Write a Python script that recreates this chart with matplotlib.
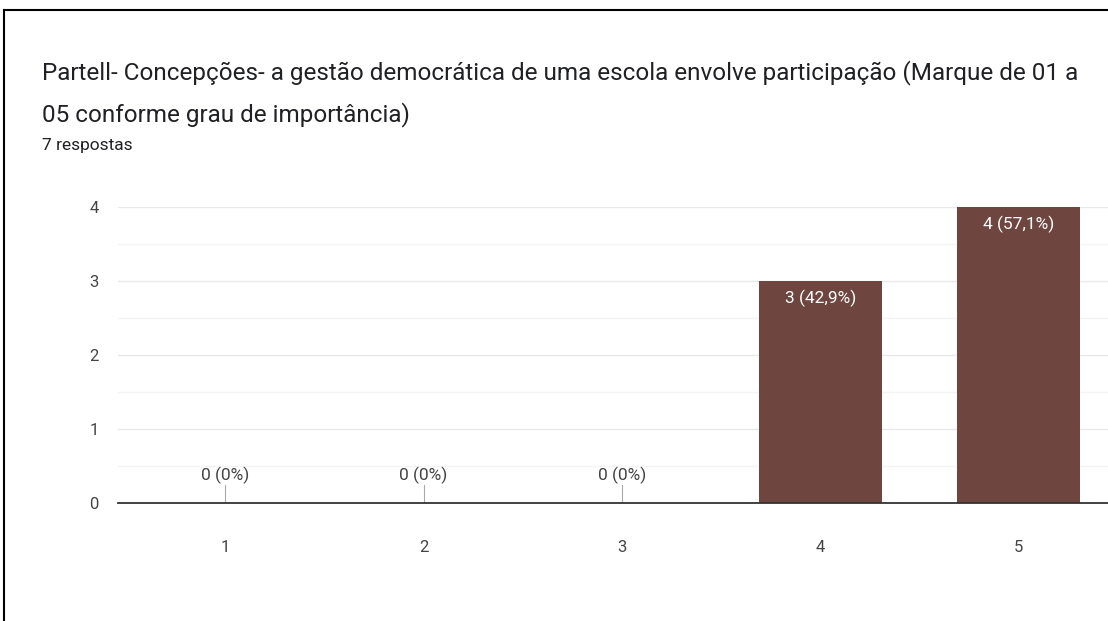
import numpy as np
import matplotlib
matplotlib.use("Agg")
import matplotlib.pyplot as plt
from matplotlib.lines import Line2D

plt.rcParams['font.family'] = ['Roboto', 'DejaVu Sans']

# ---- data ----
categories = ["1", "2", "3", "4", "5"]
counts = [0, 0, 0, 3, 4]
labels = ["0 (0%)", "0 (0%)", "0 (0%)", "3 (42,9%)", "4 (57,1%)"]
title_l1 = "Partell- Concepções- a gestão democrática de uma escola envolve participação (Marque de 01 a"
title_l2 = "05 conforme grau de importância)"
subtitle = "7 respostas"

bar_color = "#6f463f"
W, H = 1108, 621
fig = plt.figure(figsize=(W/100, H/100), dpi=100)
fig.patch.set_facecolor("white")

# screenshot frame (left and top edges)
fig.add_artist(Line2D([4/W, 4/W], [0, 1 - 10/H], color="black", lw=1.5, transform=fig.transFigure))
fig.add_artist(Line2D([4/W, 1], [1 - 10/H, 1 - 10/H], color="black", lw=1.5, transform=fig.transFigure))

fig.text(42/W, 1 - 73/H, title_l1, fontsize=17.5, color="#202124", va="center", ha="left")
fig.text(42/W, 1 - 115/H, title_l2, fontsize=17.5, color="#202124", va="center", ha="left")
fig.text(42/W, 1 - 146/H, subtitle, fontsize=12.5, color="#202124", va="center", ha="left")

ax = fig.add_axes([118/W, 1 - 503/H, 1 - 118/W, (503 - 207)/H])
x = np.arange(1, len(categories) + 1)
ax.bar(x, counts, width=0.62, color=bar_color, zorder=3)

ax.set_xlim(0.46, 5.45)
ax.set_ylim(0, 4)
ax.set_yticks([0, 1, 2, 3, 4])
ax.set_yticks(np.arange(0.5, 4, 1), minor=True)
ax.set_xticks(x)
ax.set_xticklabels(categories)
ax.grid(axis="y", which="major", color="#e8e8e8", lw=1, zorder=0)
ax.grid(axis="y", which="minor", color="#f4f4f4", lw=1, zorder=0)
ax.tick_params(axis="both", which="both", length=0, labelsize=12, labelcolor="#444444")
ax.tick_params(axis="y", pad=14)
ax.tick_params(axis="x", pad=27)
for s in ["top", "right", "left"]:
    ax.spines[s].set_visible(False)
ax.spines["bottom"].set_color("#333333")
ax.spines["bottom"].set_linewidth(1.3)
ax.spines["bottom"].set_zorder(4)

for xi, c, lab in zip(x, counts, labels):
    if c == 0:
        ax.plot([xi, xi], [0, 0.25], color="#aaaaaa", lw=0.8, zorder=3)
        ax.text(xi, 0.38, lab, ha="center", va="center", fontsize=12.5, color="#444444", zorder=5)
    else:
        ax.text(xi, c - 0.23, lab, ha="center", va="center", fontsize=12.5, color="white", zorder=5)

fig.savefig("out.png", dpi=100)
